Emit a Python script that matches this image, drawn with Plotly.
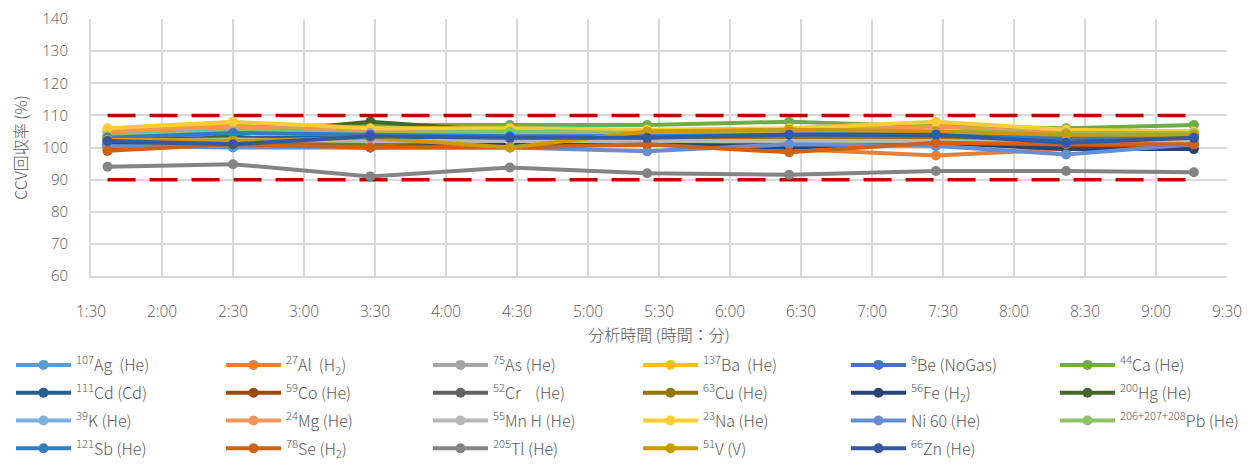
import plotly.graph_objects as go

times = [97, 150, 208, 267, 325, 385, 447, 502, 556]  # minutes since 0:00
tick_vals = [90, 120, 150, 180, 210, 240, 270, 300, 330, 360, 390, 420, 450, 480, 510, 540, 570]
tick_text = ["1:30", "2:00", "2:30", "3:00", "3:30", "4:00", "4:30", "5:00", "5:30",
             "6:00", "6:30", "7:00", "7:30", "8:00", "8:30", "9:00", "9:30"]

names = [
    "<sup>107</sup>Ag  (He)", "<sup>27</sup>Al  (H<sub>2</sub>)", "<sup>75</sup>As (He)",
    "<sup>137</sup>Ba  (He)", "<sup>9</sup>Be (NoGas)", "<sup>44</sup>Ca (He)",
    "<sup>111</sup>Cd (Cd)", "<sup>59</sup>Co (He)", "<sup>52</sup>Cr    (He)",
    "<sup>63</sup>Cu (He)", "<sup>56</sup>Fe (H<sub>2</sub>)", "<sup>200</sup>Hg (He)",
    "<sup>39</sup>K (He)", "<sup>24</sup>Mg (He)", "<sup>55</sup>Mn H (He)",
    "<sup>23</sup>Na (He)", "Ni 60 (He)", "<sup>206+207+208</sup>Pb (He)",
    "<sup>121</sup>Sb (He)", "<sup>78</sup>Se (H<sub>2</sub>)", "<sup>205</sup>Tl (He)",
    "<sup>51</sup>V (V)", "<sup>66</sup>Zn (He)",
]

colors = [
    "#5B9BD5", "#ED7D31", "#A5A5A5", "#FFC000", "#4472C4", "#70AD47",
    "#255E91", "#9E480E", "#636363", "#997300", "#264478", "#43682B",
    "#7CAFDD", "#F1975A", "#B7B7B7", "#FFCD33", "#698ED0", "#8CC168",
    "#327DC2", "#D26012", "#848484", "#CC9A00", "#335AA1",
]

ag = [104, 105.5, 103, 103, 102.5, 103, 103, 103, 103.5]
al = [100.5, 101, 101, 100.5, 101, 99.5, 97.5, 99.5, 101]
as_ = [102, 102.5, 102, 102, 102.5, 102.5, 102.5, 102, 102.5]
ba = [105.5, 107.5, 105.5, 105, 105, 105.5, 107, 105, 105]
be = [101, 101, 101.5, 101.5, 102, 102, 103, 102, 102]
ca = [103, 106.5, 107, 107, 107, 108, 106.5, 106, 107]
cd = [102.5, 103, 103, 103, 103, 103, 103, 102.5, 103]
co = [100, 101, 100.5, 100.5, 101, 101, 101.5, 100.5, 101]
cr = [101.5, 101.5, 101, 101, 101.5, 101.5, 101.5, 101, 101.5]
cu = [102, 102, 101.5, 101, 102, 103, 102.5, 101.5, 102.5]
fe = [101, 100.5, 100, 101, 101, 100, 101.5, 99.5, 99.5]
hg = [99, 104, 108, 105, 105, 105.5, 104.5, 104, 104]
k = [104.5, 106, 104, 104, 104, 104.5, 105, 103.5, 104]
mg = [105, 106.5, 105, 104.5, 105, 105, 106.5, 104.5, 104.5]
mn = [102, 102.5, 102, 102, 102, 102, 102, 101.5, 102]
na = [106, 108, 106, 106, 105.5, 106, 108, 105.5, 105]
ni = [100.5, 100, 100, 100, 98.8, 101, 100.5, 97.8, 101]
pb = [103.5, 105, 104.5, 105, 104.5, 105.5, 105, 104.5, 104.5]
sb = [103, 104.5, 104, 103.5, 103.5, 104, 104.5, 103, 103.5]
se = [99, 101, 100, 100, 101, 98.5, 101.5, 101, 101]
tl = [94, 94.8, 91, 93.8, 92, 91.5, 92.7, 92.7, 92.3]
v = [102.5, 102, 103, 100, 105, 105.5, 105, 104, 104]
zn = [102, 101, 103.5, 103, 103, 104, 104, 101.5, 103]

upper_limit = [110] * len(times)
lower_limit = [90] * len(times)

series = [ag, al, as_, ba, be, ca, cd, co, cr, cu, fe, hg, k, mg, mn, na, ni, pb, sb, se, tl, v, zn]

FONT = "Noto Sans CJK JP, Open Sans, sans-serif"
TICKFONT = "Open Sans, Noto Sans CJK JP, sans-serif"
TXT = "#595959"

# layout geometry (pixels); the page body adds an 8px offset
OFF = 8
W, H = 1255 - OFF, 466 - OFF
L, T = 91 - OFF, 19 - OFF
PW, PH = 1136, 257
R, B = W - L - PW, H - T - PH
N_COLS = 6
col_page_px = [11, 221, 428, 638, 846, 1055]
legend_top_page_px = 348

fig = go.Figure()
for lim in (upper_limit, lower_limit):
    fig.add_trace(go.Scatter(
        x=times, y=lim, mode="lines", showlegend=False, hoverinfo="skip",
        line=dict(color="#C00000", width=3.5, dash="28px,14px"),
    ))

for i, (name, col, vals) in enumerate(zip(names, colors, series)):
    c = i % N_COLS
    lg = "legend" if c == 0 else f"legend{c + 1}"
    fig.add_trace(go.Scatter(
        x=times, y=vals, name=name, mode="lines+markers",
        line=dict(color=col, width=4),
        marker=dict(color=col, size=10),
        legend=lg, legendgroup=f"g{i}",
    ))

legend_common = dict(
    orientation="v", xanchor="left", yanchor="top",
    y=-((legend_top_page_px - OFF) - (T + PH)) / PH,
    itemwidth=55, tracegroupgap=4, bgcolor="rgba(0,0,0,0)",
    font=dict(size=16, color=TXT, family=FONT, weight=300),
)
legends = {}
for c in range(N_COLS):
    key = "legend" if c == 0 else f"legend{c + 1}"
    legends[key] = dict(legend_common, x=((col_page_px[c] - OFF) - L) / PW)

fig.update_layout(
    width=W, height=H,
    margin=dict(l=L, r=R, t=T, b=B, autoexpand=False),
    paper_bgcolor="white", plot_bgcolor="white",
    font=dict(family=FONT, color=TXT, size=15, weight=300),
    showlegend=True,
    **legends,
)

fig.update_xaxes(
    range=[90, 570], tickvals=tick_vals, ticktext=tick_text,
    showgrid=True, gridcolor="#D9D9D9", gridwidth=2,
    showline=True, linecolor="#D9D9D9", linewidth=2, zeroline=False,
    ticks="", ticklabelstandoff=20, ticklabeloverflow="allow",
    tickfont=dict(size=15.5, color=TXT, family=TICKFONT),
    title=dict(text="分析時間 (時間：分)", font=dict(size=16, color=TXT), standoff=2),
)
fig.update_yaxes(
    range=[60, 140], dtick=10,
    showgrid=True, gridcolor="#D9D9D9", gridwidth=2,
    showline=True, linecolor="#D9D9D9", linewidth=2, zeroline=False,
    ticks="", ticklabelstandoff=18, ticklabeloverflow="allow",
    tickfont=dict(size=15, color=TXT, family=TICKFONT),
    title=dict(text="CCV回収率 (%)", font=dict(size=16, color=TXT), standoff=15),
)

fig.write_html("out.html")
